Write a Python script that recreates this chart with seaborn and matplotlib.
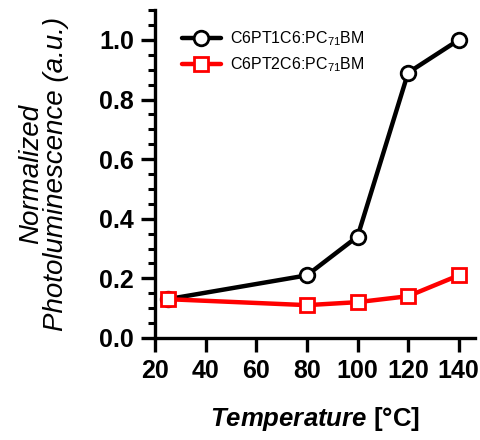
import pandas as pd
import matplotlib
matplotlib.use("Agg")
import matplotlib.pyplot as plt
import seaborn as sns
from matplotlib.ticker import MultipleLocator

temperature = [25, 80, 100, 120, 140]
pt1_values = [0.13, 0.21, 0.34, 0.89, 1.0]
pt2_values = [0.13, 0.11, 0.12, 0.14, 0.21]
labels = [r'C6PT1C6:PC$_{71}$BM', r'C6PT2C6:PC$_{71}$BM']

sns.set_style("ticks")
plt.rcParams['font.family'] = ['Liberation Sans', 'DejaVu Sans']
plt.rcParams['mathtext.fontset'] = 'custom'
plt.rcParams['mathtext.rm'] = 'Liberation Sans'
plt.rcParams['mathtext.it'] = 'Liberation Sans:italic'
plt.rcParams['mathtext.bf'] = 'Liberation Sans:bold'
plt.rcParams['mathtext.bfit'] = 'Liberation Sans:italic:bold'
for k in ['text.color', 'axes.labelcolor', 'xtick.color', 'ytick.color', 'axes.edgecolor']:
    plt.rcParams[k] = 'black'

df1 = pd.DataFrame({'T': temperature, 'PL': pt1_values})
df2 = pd.DataFrame({'T': temperature, 'PL': pt2_values})

fig = plt.figure(figsize=(4.8, 4.4), dpi=100)
ax = fig.add_axes([0.323, 0.232, 0.667, 0.745])

sns.lineplot(data=df1, x='T', y='PL', ax=ax, color='black', lw=3.2,
             marker='o', ms=10.5, mfc='white', mec='black', mew=2,
             label=labels[0], zorder=3)
sns.lineplot(data=df2, x='T', y='PL', ax=ax, color='red', lw=3.2,
             marker='s', ms=9.5, mfc='white', mec='red', mew=2,
             label=labels[1], zorder=4)

ax.set_xlim(20, 146.5)
ax.set_ylim(0, 1.1)
ax.set_xticks([20, 40, 60, 80, 100, 120, 140])
ax.set_yticks([0.0, 0.2, 0.4, 0.6, 0.8, 1.0])
ax.yaxis.set_minor_locator(MultipleLocator(0.05))
ax.set_yticklabels(['0.0', '0.2', '0.4', '0.6', '0.8', '1.0'])

for s in ['top', 'right']:
    ax.spines[s].set_visible(False)
for s in ['left', 'bottom']:
    ax.spines[s].set_linewidth(2.4)

ax.tick_params(axis='both', which='major', direction='out', length=10, width=2.4,
               labelsize=18, pad=5)
ax.tick_params(axis='y', which='minor', direction='out', length=5, width=2.2)
for t in ax.get_xticklabels() + ax.get_yticklabels():
    t.set_fontweight('bold')

ax.set_ylabel('Normalized\nPhotoluminescence (a.u.)', fontsize=20, style='italic',
              labelpad=22, linespacing=0.95)
ax.set_xlabel(r'$\mathbfit{Temperature}$ [°C]', fontsize=18.5, fontweight='bold', labelpad=16)

leg = ax.legend(loc='upper left', frameon=False, fontsize=11.5, handlelength=2.4,
                handletextpad=0.6, bbox_to_anchor=(0.05, 0.975), borderaxespad=0.3,
                labelspacing=0.45)

fig.savefig('out.png', dpi=100)
